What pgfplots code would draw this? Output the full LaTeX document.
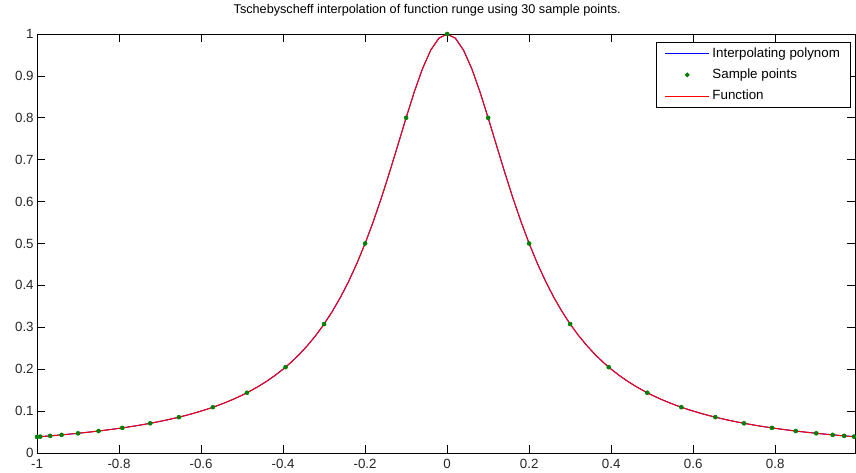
\documentclass[border=0pt]{standalone}
\usepackage{fontspec}
\setmainfont{Liberation Sans}
\usepackage{pgfplots}
\pgfplotsset{compat=1.18}
\definecolor{mgreen}{rgb}{0,0.5,0}
\definecolor{mblue}{rgb}{0,0,1}
\definecolor{mred}{rgb}{1,0,0}
\pgfplotsset{
  bluelegend/.style={legend image code/.code={\draw[mblue,line width=0.8pt] (0pt,0pt) -- (33pt,0pt);}},
  redlegend/.style={legend image code/.code={\draw[mred,line width=0.8pt] (0pt,0pt) -- (33pt,0pt);}},
  marklegend/.style={legend image code/.code={\fill[mgreen] (16.5pt,0pt) circle (1.4pt);}},
}
\pgfplotstableread{
x y
-1.00 0.038462
-0.98 0.039984
-0.96 0.041597
-0.94 0.043309
-0.92 0.045126
-0.90 0.047059
-0.88 0.049116
-0.86 0.051308
-0.84 0.053648
-0.82 0.056148
-0.80 0.058824
-0.78 0.061690
-0.76 0.064767
-0.74 0.068073
-0.72 0.071633
-0.70 0.075472
-0.68 0.079618
-0.66 0.084104
-0.64 0.088968
-0.62 0.094251
-0.60 0.100000
-0.58 0.106270
-0.56 0.113122
-0.54 0.120627
-0.52 0.128866
-0.50 0.137931
-0.48 0.147929
-0.46 0.158983
-0.44 0.171233
-0.42 0.184843
-0.40 0.200000
-0.38 0.216920
-0.36 0.235849
-0.34 0.257069
-0.32 0.280899
-0.30 0.307692
-0.28 0.337838
-0.26 0.371747
-0.24 0.409836
-0.22 0.452489
-0.20 0.500000
-0.18 0.552486
-0.16 0.609756
-0.14 0.671141
-0.12 0.735294
-0.10 0.800000
-0.08 0.862069
-0.06 0.917431
-0.04 0.961538
-0.02 0.990099
0.00 1.000000
0.02 0.990099
0.04 0.961538
0.06 0.917431
0.08 0.862069
0.10 0.800000
0.12 0.735294
0.14 0.671141
0.16 0.609756
0.18 0.552486
0.20 0.500000
0.22 0.452489
0.24 0.409836
0.26 0.371747
0.28 0.337838
0.30 0.307692
0.32 0.280899
0.34 0.257069
0.36 0.235849
0.38 0.216920
0.40 0.200000
0.42 0.184843
0.44 0.171233
0.46 0.158983
0.48 0.147929
0.50 0.137931
0.52 0.128866
0.54 0.120627
0.56 0.113122
0.58 0.106270
0.60 0.100000
0.62 0.094251
0.64 0.088968
0.66 0.084104
0.68 0.079618
0.70 0.075472
0.72 0.071633
0.74 0.068073
0.76 0.064767
0.78 0.061690
0.80 0.058824
0.82 0.056148
0.84 0.053648
0.86 0.051308
0.88 0.049116
0.90 0.047059
0.92 0.045126
0.94 0.043309
0.96 0.041597
0.98 0.039984
1.00 0.038462
}\funtable
\pgfplotstableread{
x y
-1.000 0.038462
-0.992 0.039060
-0.968 0.040940
-0.940 0.043309
-0.900 0.047059
-0.850 0.052459
-0.792 0.059946
-0.724 0.070900
-0.654 0.085522
-0.571 0.109277
-0.488 0.143810
-0.394 0.204880
-0.300 0.307692
-0.200 0.500000
-0.100 0.800000
0.000 1.000000
0.100 0.800000
0.200 0.500000
0.300 0.307692
0.394 0.204880
0.488 0.143810
0.571 0.109277
0.654 0.085522
0.724 0.070900
0.792 0.059946
0.850 0.052459
0.900 0.047059
0.940 0.043309
0.968 0.040940
0.992 0.039060
}\samptable
\begin{document}
\begin{tikzpicture}
\begin{axis}[
  scale only axis,
  width=613.5pt, height=314.25pt,
  xmin=-1, xmax=0.9945, ymin=0, ymax=1,
  xtick={-1,-0.8,-0.6,-0.4,-0.2,0,0.2,0.4,0.6,0.8},
  xticklabels={-1,-0.8,-0.6,-0.4,-0.2,0,0.2,0.4,0.6,0.8},
  ytick={0,0.1,0.2,0.3,0.4,0.5,0.6,0.7,0.8,0.9,1},
  yticklabels={0,0.1,0.2,0.3,0.4,0.5,0.6,0.7,0.8,0.9,1},
  tick align=inside, major tick length=6pt,
  tick style={black, line width=0.6pt},
  axis line style={line width=0.6pt},
  ticklabel style={font=\fontsize{10}{12}\selectfont, text=black!85},
  xticklabel style={yshift=-1pt},
  yticklabel style={xshift=1pt},
  title={Tschebyscheff interpolation of function runge using 30 sample points.},
  title style={font=\fontsize{9.5}{11}\selectfont, at={(axis description cs:0.477,1)}, anchor=base, yshift=9pt},
  legend style={at={(axis description cs:1,1)}, anchor=north east, xshift=-3pt, yshift=-6pt,
    font=\fontsize{10}{12}\selectfont, draw=black, line width=0.6pt, inner xsep=6pt, inner ysep=2pt,
    row sep=3.2pt, cells={anchor=west}},
  legend cell align=left,
]
\addplot[mblue, line width=0.75pt, bluelegend] table[x=x,y=y] {\funtable};
\addlegendentry{Interpolating polynom}
\addplot[only marks, mark=*, mark size=1.5pt, color=mgreen, marklegend] table[x=x,y=y] {\samptable};
\addlegendentry{Sample points}
\addplot[mred, line width=0.75pt, redlegend] table[x=x,y=y] {\funtable};
\addlegendentry{Function}
\end{axis}
\pgfresetboundingbox
\path (current axis.south west) ++(-27.75pt,-14.25pt) coordinate (BL);
\path (current axis.north east) ++(0.75pt,25.5pt) coordinate (TR);
\path[use as bounding box] (BL) rectangle (TR);
\end{tikzpicture}
\end{document}
